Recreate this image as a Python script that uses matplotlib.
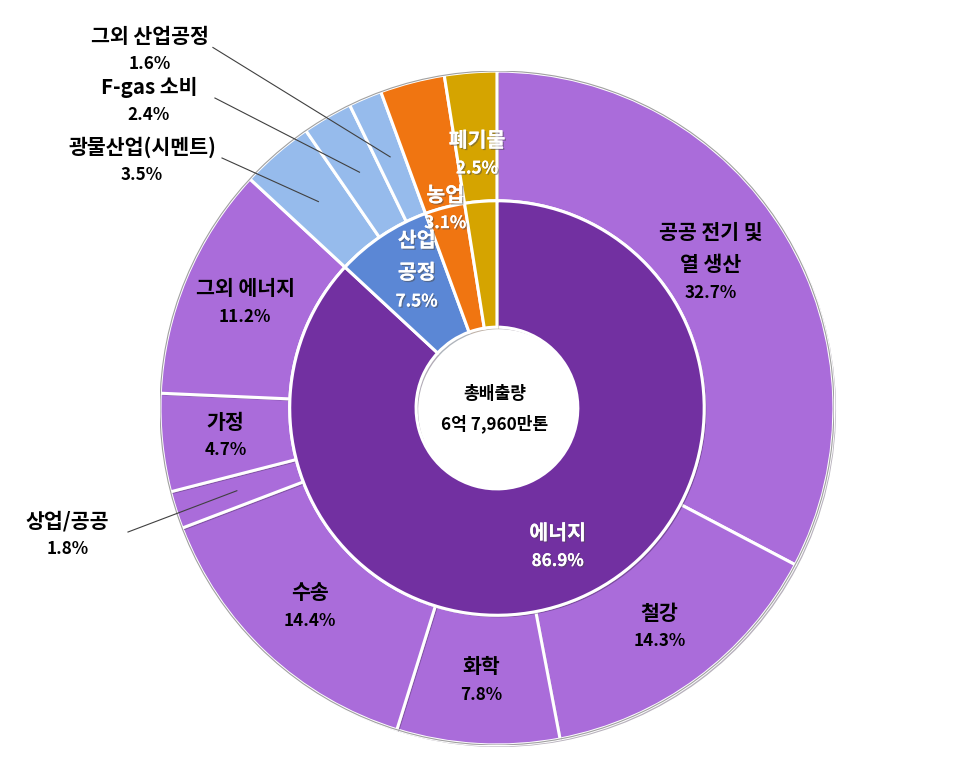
import numpy as np
import matplotlib
matplotlib.use('Agg')
import matplotlib.pyplot as plt
import matplotlib.patheffects as pe

plt.rcParams['font.family'] = ['Noto Sans CJK KR', 'DejaVu Sans']
plt.rcParams['font.weight'] = 'bold'

# inner ring: sectors
inner_labels = ['에너지', '산업\n공정', '농업', '폐기물']
inner_values = [86.9, 7.5, 3.1, 2.5]
inner_colors = ['#7230A1', '#5B87D5', '#F07511', '#D5A400']

# outer ring: sub-sectors
outer_labels = ['공공 전기 및\n열 생산', '철강', '화학', '수송', '상업/공공', '가정', '그외 에너지',
                '광물산업(시멘트)', 'F-gas 소비', '그외 산업공정', '농업', '폐기물']
outer_values = [32.7, 14.3, 7.8, 14.4, 1.8, 4.7, 11.2, 3.5, 2.4, 1.6, 3.1, 2.5]
outer_colors = ['#AA6CDA'] * 7 + ['#96BBEC'] * 3 + ['#F07511', '#D5A400']

center_text = '총배출량\n6억 7,960만톤'

# labels drawn outside: text centre, leader line start
outside = {'상업/공공': ((-1.275, -0.377), (-1.095, -0.368)),
           '광물산업(시멘트)': ((-1.053, 0.733), (-0.816, 0.742)),
           'F-gas 소비': ((-1.033, 0.91), (-0.837, 0.92)),
           '그외 산업공정': ((-1.03, 1.062), (-0.843, 1.07))}

R_OUT, R_MID, R_HOLE = 1.0, 0.615, 0.24

fig = plt.figure(figsize=(9.66, 7.8), dpi=100)
ax = fig.add_axes([0.1656, 0.0449, 0.6977, 0.864])

shadow = [pe.SimplePatchShadow(offset=(1.5, -1.5), alpha=0.35), pe.Normal()]
w_out, _ = ax.pie(outer_values, radius=R_OUT, colors=outer_colors, startangle=90, counterclock=False,
                  wedgeprops=dict(width=R_OUT - R_MID, edgecolor='white', linewidth=2.2))
w_in, _ = ax.pie(inner_values, radius=R_MID, colors=inner_colors, startangle=90, counterclock=False,
                 wedgeprops=dict(width=R_MID - R_HOLE, edgecolor='white', linewidth=2.2))
for w in list(w_out) + list(w_in):
    w.set_path_effects(shadow)
ax.add_patch(plt.Circle((0, 0), R_OUT, fill=False, edgecolor='#A0A0A0', linewidth=0.8))
ax.set_xlim(-1, 1)
ax.set_ylim(-1, 1)
ax.axis('off')


def mid_angles(values):
    cum = np.cumsum([0] + list(values))
    mids = (cum[:-1] + cum[1:]) / 2 / cum[-1]
    return np.deg2rad(90 - mids * 360)


txt_shadow = [pe.withSimplePatchShadow(offset=(1, -1), alpha=0.5), pe.Normal()]
fs_name, fs_pct = 14.8, 12.3
px = 1 / 337.0  # one pixel in data units


def draw_label(x, y, name, val, color, effects=None):
    n = name.count('\n') + 1
    ny = y + 14 * px + (n - 1) * 17 * px
    ax.text(x, ny, name, ha='center', va='center', fontsize=fs_name, linespacing=1.65,
            color=color, path_effects=effects, clip_on=False)
    ax.text(x, y - 14 * px, f'{val}%', ha='center', va='center', fontsize=fs_pct,
            color=color, path_effects=effects, clip_on=False)


# outer labels
outer_r = {'공공 전기 및\n열 생산': 0.74}
for lab, val, a in zip(outer_labels, outer_values, mid_angles(outer_values)):
    if lab in ('농업', '폐기물'):
        continue
    r = outer_r.get(lab, 0.81)
    ax_, ay_ = r * np.cos(a), r * np.sin(a)
    if lab in outside:
        (tx, ty), (lx, ly) = outside[lab]
        draw_label(tx, ty, lab, val, 'black')
        ax.plot([lx, ax_], [ly, ay_], color='#404040', linewidth=0.8, clip_on=False)
    else:
        draw_label(ax_, ay_, lab, val, 'black')

# inner labels
inner_r = {'에너지': 0.45, '산업\n공정': 0.43, '농업': 0.61, '폐기물': 0.755}
for lab, val, a in zip(inner_labels, inner_values, mid_angles(inner_values)):
    r = inner_r[lab]
    draw_label(r * np.cos(a), r * np.sin(a), lab, val, 'white', txt_shadow)

ax.text(-0.006, -0.003, center_text, ha='center', va='center', fontsize=12.3,
        linespacing=1.75, color='black')

fig.savefig('out.png', dpi=100)
